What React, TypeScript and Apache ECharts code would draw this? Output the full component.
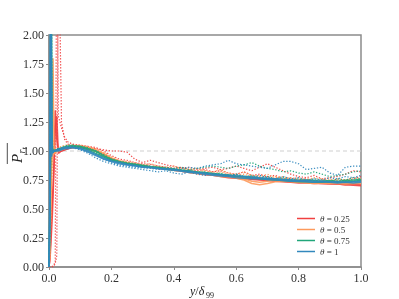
import React, { useEffect, useRef } from "react";
import * as echarts from "echarts";

// x positions (y/δ99) shared by all profiles
const XS = [
  0, 0.002, 0.004, 0.006, 0.008, 0.01, 0.013, 0.016, 0.02, 0.025, 0.03, 0.04, 0.05, 0.06, 0.075,
  0.1, 0.125, 0.15, 0.175, 0.2, 0.225, 0.25, 0.275, 0.3, 0.325, 0.35, 0.375, 0.4, 0.425, 0.45, 0.475,
  0.5, 0.525, 0.55, 0.575, 0.6, 0.625, 0.65, 0.675, 0.7, 0.725, 0.75, 0.775, 0.8, 0.825, 0.85, 0.875,
  0.9, 0.925, 0.95, 0.975, 1.0,
];

const THETAS = ["θ = 0.25", "θ = 0.5", "θ = 0.75", "θ = 1"];
const COLORS = ["#f04040", "#fd9a5c", "#21a67a", "#3288bd"];
const REF_LEVEL = [1, 1];
const REF_X = [0, 1];

// θ = 0.25
const RED_S1 = [
  0, 0.05, 0.15, 0.3, 0.45, 0.55, 0.7, 0.9, 1.35, 1.1, 1.0, 1.0, 1.01, 1.02, 1.03,
  1.03, 1.02, 1.0, 0.97, 0.935, 0.91, 0.895, 0.885, 0.875, 0.865, 0.855, 0.85, 0.84, 0.83, 0.82, 0.81, 0.8, 0.795, 0.785, 0.775, 0.77, 0.765, 0.76, 0.755, 0.75, 0.745, 0.74, 0.735, 0.73, 0.73, 0.725, 0.72, 0.72, 0.715, 0.71, 0.705, 0.7,
];
const RED_S2 = [
  0, 0.05, 0.1, 0.2, 0.3, 0.4, 0.6, 0.85, 1.2, 1.3, 0.98, 1.0, 1.01, 1.02, 1.03,
  1.03, 1.02, 1.0, 0.965, 0.93, 0.905, 0.89, 0.88, 0.87, 0.86, 0.85, 0.845, 0.835, 0.825, 0.815, 0.805, 0.795, 0.79, 0.78, 0.77, 0.765, 0.76, 0.755, 0.75, 0.745, 0.74, 0.735, 0.73, 0.725, 0.725, 0.72, 0.72, 0.715, 0.715, 0.71, 0.715, 0.71,
];
const RED_D1 = [
  0, 0, 0, 0, 0, 0, 0.01, 0.02, 0.05, 3.0, 1.3, 1.2, 1.12, 1.08, 1.06,
  1.05, 1.04, 1.03, 1.0, 0.96, 0.93, 0.92, 0.9, 0.89, 0.885, 0.87, 0.86, 0.85, 0.86, 0.84, 0.83, 0.84, 0.82, 0.83, 0.81, 0.8, 0.82, 0.79, 0.8, 0.78, 0.79, 0.76, 0.77, 0.75, 0.76, 0.74, 0.75, 0.73, 0.75, 0.74, 0.76, 0.78,
];
const RED_D2 = [
  0, 0, 0, 0, 0, 0, 0, 0.01, 0.03, 0.1, 3.0, 1.25, 1.1, 1.06, 1.04,
  1.04, 1.03, 1.02, 1.01, 1.0, 1.0, 0.99, 0.93, 0.9, 0.92, 0.9, 0.88, 0.87, 0.85, 0.86, 0.84, 0.85, 0.86, 0.84, 0.85, 0.87, 0.85, 0.83, 0.86, 0.89, 0.86, 0.83, 0.8, 0.78, 0.77, 0.79, 0.76, 0.77, 0.78, 0.8, 0.83, 0.82,
];

// θ = 0.5
const ORANGE_S1 = [
  0, 0.1, 0.35, 0.6, 0.9, 1.1, 1.8, 1.05, 0.98, 1.0, 1.0, 1.01, 1.02, 1.03, 1.04,
  1.04, 1.03, 1.01, 0.98, 0.94, 0.915, 0.9, 0.885, 0.875, 0.865, 0.855, 0.85, 0.84, 0.83, 0.82, 0.815, 0.805, 0.8, 0.79, 0.785, 0.77, 0.76, 0.74, 0.73, 0.74, 0.75, 0.745, 0.74, 0.735, 0.73, 0.725, 0.73, 0.725, 0.72, 0.725, 0.72, 0.72,
];
const ORANGE_S2 = [
  0, 0.1, 0.3, 0.55, 0.8, 0.95, 1.0, 0.97, 0.99, 1.0, 1.01, 1.02, 1.03, 1.04, 1.04,
  1.04, 1.03, 1.0, 0.97, 0.93, 0.91, 0.895, 0.88, 0.87, 0.86, 0.85, 0.845, 0.835, 0.825, 0.815, 0.805, 0.8, 0.79, 0.78, 0.775, 0.765, 0.75, 0.72, 0.71, 0.72, 0.735, 0.74, 0.735, 0.73, 0.725, 0.72, 0.725, 0.72, 0.72, 0.715, 0.72, 0.725,
];
const ORANGE_D1 = [
  0, 0.1, 0.3, 0.5, 0.7, 0.9, 1.1, 1.0, 1.02, 1.02, 1.03, 1.04, 1.05, 1.05, 1.05,
  1.05, 1.04, 1.02, 0.99, 0.95, 0.92, 0.91, 0.9, 0.88, 0.89, 0.87, 0.86, 0.87, 0.85, 0.84, 0.85, 0.83, 0.82, 0.84, 0.81, 0.8, 0.82, 0.79, 0.78, 0.8, 0.77, 0.78, 0.76, 0.77, 0.75, 0.77, 0.76, 0.74, 0.76, 0.75, 0.77, 0.76,
];
const ORANGE_D2 = [
  0, 0.05, 0.2, 0.4, 0.65, 0.85, 0.95, 1.0, 1.0, 1.01, 1.02, 1.03, 1.04, 1.04, 1.05,
  1.04, 1.03, 1.01, 0.98, 0.94, 0.91, 0.9, 0.88, 0.87, 0.87, 0.86, 0.85, 0.84, 0.85, 0.83, 0.82, 0.83, 0.81, 0.82, 0.8, 0.79, 0.8, 0.78, 0.79, 0.77, 0.78, 0.76, 0.77, 0.75, 0.76, 0.74, 0.75, 0.76, 0.74, 0.75, 0.74, 0.76,
];

// θ = 0.75
const GREEN_S1 = [
  0, 0.4, 1.2, 2.6, 1.2, 1.0, 0.99, 1.0, 1.01, 1.0, 1.01, 1.02, 1.03, 1.03, 1.04,
  1.03, 1.01, 0.98, 0.95, 0.92, 0.9, 0.89, 0.88, 0.87, 0.86, 0.855, 0.85, 0.84, 0.835, 0.825, 0.82, 0.81, 0.805, 0.795, 0.79, 0.785, 0.78, 0.775, 0.765, 0.76, 0.76, 0.755, 0.75, 0.745, 0.75, 0.745, 0.74, 0.745, 0.74, 0.745, 0.75, 0.755,
];
const GREEN_S2 = [
  0, 0.2, 0.7, 1.0, 2.3, 1.05, 1.0, 1.0, 1.0, 1.01, 1.02, 1.02, 1.03, 1.04, 1.04,
  1.04, 1.02, 1.0, 0.96, 0.93, 0.91, 0.895, 0.885, 0.875, 0.865, 0.86, 0.85, 0.845, 0.835, 0.83, 0.82, 0.815, 0.805, 0.8, 0.79, 0.78, 0.775, 0.77, 0.76, 0.755, 0.75, 0.745, 0.74, 0.735, 0.735, 0.73, 0.73, 0.735, 0.73, 0.735, 0.74, 0.745,
];
const GREEN_D1 = [
  0, 0.3, 0.8, 2.2, 1.3, 1.0, 1.0, 1.01, 1.0, 1.02, 1.02, 1.03, 1.04, 1.05, 1.05,
  1.04, 1.03, 1.0, 0.97, 0.93, 0.91, 0.9, 0.89, 0.88, 0.87, 0.86, 0.86, 0.85, 0.86, 0.84, 0.85, 0.86, 0.87, 0.86, 0.85, 0.87, 0.88, 0.9, 0.87, 0.85, 0.84, 0.82, 0.83, 0.81, 0.8, 0.82, 0.8, 0.78, 0.79, 0.8, 0.82, 0.83,
];
const GREEN_D2 = [
  0, 0.2, 0.6, 1.0, 2.1, 1.1, 1.0, 1.0, 1.01, 1.01, 1.02, 1.03, 1.04, 1.04, 1.05,
  1.04, 1.02, 0.99, 0.95, 0.92, 0.9, 0.89, 0.88, 0.87, 0.86, 0.85, 0.84, 0.83, 0.84, 0.82, 0.81, 0.82, 0.8, 0.81, 0.79, 0.8, 0.78, 0.79, 0.77, 0.78, 0.76, 0.77, 0.75, 0.76, 0.74, 0.76, 0.75, 0.74, 0.76, 0.75, 0.77, 0.76,
];

// θ = 1
const BLUE_S1 = [
  0, 0.3, 0.9, 2.4, 1.6, 1.0, 1.0, 1.0, 1.0, 1.01, 1.0, 1.01, 1.02, 1.02, 1.03,
  1.02, 0.99, 0.96, 0.93, 0.91, 0.89, 0.88, 0.87, 0.86, 0.855, 0.85, 0.845, 0.84, 0.83, 0.825, 0.815, 0.81, 0.8, 0.795, 0.79, 0.785, 0.78, 0.775, 0.77, 0.765, 0.76, 0.755, 0.75, 0.745, 0.745, 0.74, 0.74, 0.735, 0.735, 0.73, 0.735, 0.74,
];
const BLUE_S2 = [
  0, 0.5, 2.5, 1.3, 0.95, 0.98, 0.99, 1.0, 1.0, 1.0, 1.01, 1.02, 1.03, 1.03, 1.03,
  1.02, 1.0, 0.97, 0.94, 0.915, 0.9, 0.885, 0.875, 0.865, 0.86, 0.85, 0.84, 0.835, 0.825, 0.815, 0.81, 0.8, 0.79, 0.785, 0.78, 0.77, 0.765, 0.76, 0.76, 0.755, 0.75, 0.745, 0.74, 0.74, 0.735, 0.73, 0.735, 0.73, 0.725, 0.73, 0.725, 0.73,
];
const BLUE_D1 = [
  0, 0.4, 1.1, 2.5, 1.2, 1.0, 1.0, 1.0, 1.01, 1.01, 1.02, 1.03, 1.03, 1.04, 1.04,
  1.03, 1.01, 0.97, 0.93, 0.9, 0.88, 0.87, 0.86, 0.855, 0.85, 0.84, 0.85, 0.84, 0.85, 0.86, 0.85, 0.87, 0.88, 0.89, 0.92, 0.89, 0.88, 0.87, 0.86, 0.85, 0.88, 0.91, 0.91, 0.89, 0.84, 0.85, 0.86, 0.81, 0.79, 0.86, 0.87, 0.87,
];
const BLUE_D2 = [
  0, 0.2, 0.9, 1.5, 2.4, 1.0, 0.98, 1.0, 1.0, 1.01, 1.02, 1.02, 1.03, 1.03, 1.03,
  1.01, 0.98, 0.94, 0.91, 0.89, 0.87, 0.86, 0.85, 0.84, 0.83, 0.82, 0.83, 0.81, 0.8, 0.82, 0.8, 0.79, 0.81, 0.79, 0.78, 0.8, 0.78, 0.77, 0.79, 0.77, 0.76, 0.78, 0.76, 0.77, 0.75, 0.76, 0.75, 0.77, 0.76, 0.78, 0.77, 0.79,
];

const PROFILES: { theta: number; dotted: boolean; values: number[] }[] = [
  { theta: 0, dotted: false, values: RED_S1 },
  { theta: 0, dotted: false, values: RED_S2 },
  { theta: 0, dotted: true, values: RED_D1 },
  { theta: 0, dotted: true, values: RED_D2 },
  { theta: 1, dotted: false, values: ORANGE_S1 },
  { theta: 1, dotted: false, values: ORANGE_S2 },
  { theta: 1, dotted: true, values: ORANGE_D1 },
  { theta: 1, dotted: true, values: ORANGE_D2 },
  { theta: 2, dotted: false, values: GREEN_S1 },
  { theta: 2, dotted: false, values: GREEN_S2 },
  { theta: 2, dotted: true, values: GREEN_D1 },
  { theta: 2, dotted: true, values: GREEN_D2 },
  { theta: 3, dotted: false, values: BLUE_S1 },
  { theta: 3, dotted: false, values: BLUE_S2 },
  { theta: 3, dotted: true, values: BLUE_D1 },
  { theta: 3, dotted: true, values: BLUE_D2 },
];

const SERIF = '"Liberation Serif", "DejaVu Serif", serif';
const AXIS_GRAY = "#8c8c8c";
const TEXT_COLOR = "#333";

export default function App() {
  const ref = useRef<HTMLDivElement>(null);

  useEffect(() => {
    document.body.style.margin = "0";
    if (!ref.current) return;
    const chart = echarts.init(ref.current, undefined, { renderer: "svg" });

    const seen: Record<number, boolean> = {};
    const lineSeries = PROFILES.map((p) => {
      const first = !p.dotted && !seen[p.theta];
      if (first) seen[p.theta] = true;
      return {
        type: "line",
        name: first ? THETAS[p.theta] : THETAS[p.theta] + " #",
        data: XS.map((x, i) => [x, p.values[i]]),
        color: COLORS[p.theta],
        showSymbol: false,
        symbol: "none",
        clip: true,
        lineStyle: {
          color: COLORS[p.theta],
          width: p.dotted ? 1.2 : 1.5,
          type: p.dotted ? [1.3, 1.7] : "solid",
          opacity: p.dotted ? 0.95 : 0.9,
        },
        z: 3,
      };
    });

    const option: any = {
      animation: false,
      grid: {
        left: 49,
        right: 38,
        top: 35,
        bottom: 32,
        show: true,
        borderColor: AXIS_GRAY,
        borderWidth: 1.5,
        backgroundColor: "transparent",
      },
      xAxis: {
        type: "value",
        min: 0,
        max: 1,
        interval: 0.2,
        axisLine: { show: true, lineStyle: { color: AXIS_GRAY, width: 1.5 } },
        axisTick: { show: true, length: 3, lineStyle: { color: AXIS_GRAY, width: 1 } },
        axisLabel: {
          margin: 5,
          color: TEXT_COLOR,
          fontFamily: SERIF,
          fontSize: 12,
          formatter: (v: number) => v.toFixed(1),
        },
        splitLine: { show: false },
      },
      yAxis: {
        type: "value",
        min: 0,
        max: 2,
        interval: 0.25,
        axisLine: { show: true, lineStyle: { color: AXIS_GRAY, width: 1.5 } },
        axisTick: { show: true, length: 3, lineStyle: { color: AXIS_GRAY, width: 1 } },
        axisLabel: {
          margin: 5,
          color: TEXT_COLOR,
          fontFamily: SERIF,
          fontSize: 12,
          formatter: (v: number) => v.toFixed(2),
        },
        splitLine: { show: false },
      },
      legend: {
        orient: "vertical",
        left: 297,
        top: 213,
        data: THETAS,
        icon: "rect",
        itemWidth: 18,
        itemHeight: 1.5,
        itemGap: 0,
        padding: 0,
        textStyle: {
          fontFamily: SERIF,
          fontSize: 9,
          lineHeight: 11,
          color: TEXT_COLOR,
          rich: { i: { fontFamily: SERIF, fontSize: 9, fontStyle: "italic", color: TEXT_COLOR } },
        },
        formatter: (name: string) => name.replace("θ", "{i|θ}"),
      },
      graphic: [
        {
          type: "group",
          x: 14,
          y: 153,
          rotation: Math.PI / 2,
          children: [
            { type: "line", shape: { x1: -11, y1: -6.7, x2: 10, y2: -6.7 }, style: { stroke: "#222", lineWidth: 0.8 } },
            { type: "text", x: -10, y: -5, style: { text: "P", font: `italic 15px ${SERIF}`, fill: "#222", verticalAlign: "top" } },
            { type: "text", x: -0.5, y: 2, style: { text: "r", font: `italic 10px ${SERIF}`, fill: "#222", verticalAlign: "top" } },
            { type: "text", x: 3.5, y: 6, style: { text: "t", font: `italic 8px ${SERIF}`, fill: "#222", verticalAlign: "top" } },
          ],
        },
        {
          type: "group",
          x: 190,
          y: 285,
          children: [
            {
              type: "text",
              x: 0,
              y: 0,
              style: {
                text: "{i|y}/{i|δ}",
                font: `12px ${SERIF}`,
                fill: "#222",
                verticalAlign: "top",
                rich: { i: { fontFamily: SERIF, fontSize: 12, fontStyle: "italic", fill: "#222" } },
              },
            },
            { type: "text", x: 16, y: 6, style: { text: "99", font: `8px ${SERIF}`, fill: "#222", verticalAlign: "top" } },
          ],
        },
      ],
      series: [
        {
          type: "line",
          name: "ref",
          data: REF_X.map((x, i) => [x, REF_LEVEL[i]]),
          showSymbol: false,
          symbol: "none",
          color: "#cccccc",
          lineStyle: { color: "#cfcfcf", width: 1, type: [4, 3] },
          z: 2,
        },
        ...lineSeries,
      ],
    };

    chart.setOption(option);
    return () => chart.dispose();
  }, []);

  return <div ref={ref} style={{ width: 399, height: 299, position: "fixed", left: 0, top: 0 }} />;
}
